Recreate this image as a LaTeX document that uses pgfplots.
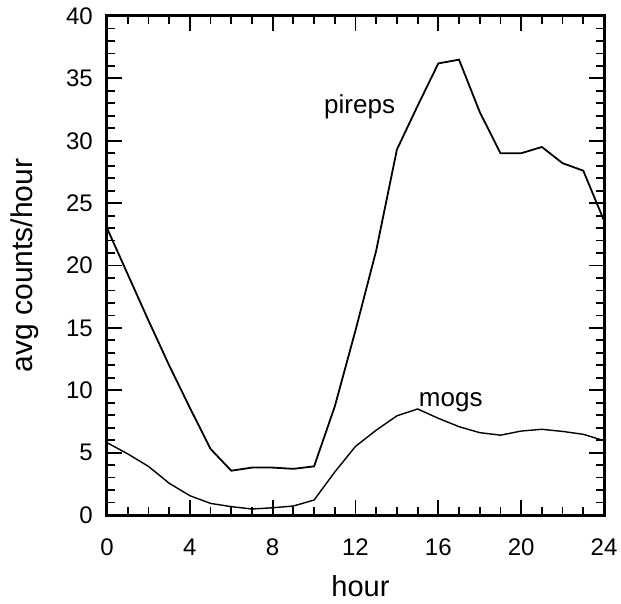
\documentclass[border=0pt]{standalone}
\usepackage{pgfplots}
\pgfplotsset{compat=1.18}
\usepackage{fontspec}
\setmainfont{Liberation Sans}
\begin{document}
\begin{tikzpicture}
\path[use as bounding box] (-107pt,-88pt) rectangle (514pt,515pt);
\begin{axis}[
  at={(0pt,0pt)}, anchor=south west,
  scale only axis,
  width=497pt, height=499pt,
  xmin=0, xmax=24, ymin=0, ymax=40,
  xtick={0,4,...,24}, ytick={0,5,...,40},
  minor x tick num=3, minor y tick num=4,
  tick align=inside,
  major tick length=15pt, minor tick length=8pt,
  every tick/.style={line width=1.8pt, black},
  axis line style={line width=3pt},
  /pgf/number format/assume math mode=true,
  tick label style={font=\fontsize{24}{28}\selectfont},
  xticklabel style={anchor=base, yshift=-40pt},
  yticklabel style={anchor=east, inner xsep=0pt, xshift=-14pt},
  xlabel={hour}, ylabel={avg counts/hour},
  xlabel style={at={(axis description cs:0.51,-0.1643)}, anchor=base, font=\fontsize{29}{34}\selectfont},
  ylabel style={at={(axis description cs:-0.1489,0.5)}, anchor=base, font=\fontsize{30}{34}\selectfont},
]
\addplot[black, line width=1.8pt] coordinates {
(0,23.0) (1,19.3) (2,15.6) (3,12.0) (4,8.6) (5,5.3) (6,3.55) (7,3.8) (8,3.8) (9,3.7) (10,3.9)
(11,8.7) (12,14.8) (13,21.2) (14,29.3) (15,32.8) (16,36.2) (17,36.5) (18,32.3) (19,29.0)
(20,29.0) (21,29.5) (22,28.2) (23,27.6) (24,23.6)};
\addplot[black, line width=1.4pt] coordinates {
(0,5.8) (1,4.9) (2,3.9) (3,2.55) (4,1.55) (5,0.93) (6,0.67) (7,0.48) (8,0.58) (9,0.72) (10,1.2)
(11,3.45) (12,5.5) (13,6.8) (14,7.95) (15,8.5) (16,7.75) (17,7.08) (18,6.6) (19,6.4)
(20,6.73) (21,6.87) (22,6.7) (23,6.47) (24,5.96)};
\node[anchor=base, font=\fontsize{26}{30}\selectfont] at (axis cs:12.2,32.2) {pireps};
\node[anchor=base, font=\fontsize{26}{30}\selectfont] at (axis cs:16.6,8.7) {mogs};
\end{axis}
\end{tikzpicture}
\end{document}
